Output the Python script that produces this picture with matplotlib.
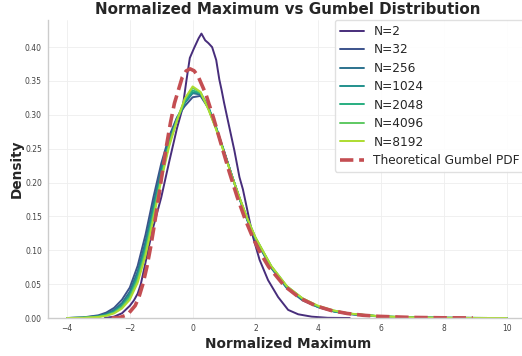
import matplotlib
matplotlib.use("Agg")
import matplotlib.pyplot as plt
import seaborn as sns

sns.set_style("whitegrid")
plt.rcParams['font.family'] = ['DejaVu Sans']

# ---- data ----
labels = ["N=2", "N=32", "N=256", "N=1024", "N=2048", "N=4096", "N=8192"]
colors = sns.color_palette("viridis", 7)

x_n2 = [-2.8, -2.5, -2.25, -2.0, -1.87, -1.75, -1.65, -1.5, -1.42, -1.25, -1.0,
        -0.75, -0.5, -0.32, -0.2, -0.09, 0.04, 0.19, 0.28, 0.4, 0.5, 0.62, 0.75,
        0.85, 0.92, 1.0, 1.12, 1.33, 1.49, 1.6, 1.76, 1.92, 2.13, 2.4, 2.72, 3.04,
        3.36, 3.79, 4.3, 5.0]
y_n2 = [0.0, 0.002, 0.007, 0.018, 0.026, 0.036, 0.05, 0.082, 0.10, 0.135, 0.178,
        0.23, 0.28, 0.31, 0.35, 0.384, 0.398, 0.413, 0.42, 0.41, 0.406, 0.40, 0.381,
        0.352, 0.337, 0.318, 0.292, 0.247, 0.208, 0.190, 0.155, 0.12, 0.086, 0.056,
        0.031, 0.012, 0.0055, 0.002, 0.0003, 0.0]

x_grid = [-4.0, -3.5, -3.0, -2.75, -2.5, -2.25, -2.0, -1.75, -1.5, -1.25, -1.0,
          -0.75, -0.5, -0.25, 0.0, 0.25, 0.5, 0.75, 1.0, 1.25, 1.5, 1.75, 2.0,
          2.5, 3.0, 3.5, 4.0, 4.5, 5.0, 6.0, 7.0, 8.0, 9.0, 10.0]

y_n32 = [0, 0.0008, 0.004, 0.008, 0.015, 0.027, 0.045, 0.077, 0.123, 0.178, 0.228,
         0.268, 0.296, 0.313, 0.326, 0.328, 0.310, 0.280, 0.246, 0.210, 0.175, 0.143,
         0.116, 0.074, 0.044, 0.026, 0.016, 0.0095, 0.0057, 0.002, 0.0007, 0.0002,
         0.0001, 0.0]
y_n256 = [0, 0.0006, 0.003, 0.006, 0.012, 0.022, 0.039, 0.069, 0.113, 0.168, 0.221,
          0.264, 0.295, 0.318, 0.332, 0.330, 0.311, 0.281, 0.246, 0.210, 0.176, 0.144,
          0.117, 0.075, 0.045, 0.027, 0.016, 0.010, 0.006, 0.0022, 0.0008, 0.0003,
          0.0001, 0.0]
y_n1024 = [0, 0.0004, 0.0025, 0.005, 0.010, 0.019, 0.035, 0.063, 0.106, 0.160, 0.214,
           0.259, 0.292, 0.318, 0.333, 0.333, 0.312, 0.281, 0.246, 0.210, 0.176, 0.145,
           0.118, 0.076, 0.046, 0.028, 0.017, 0.010, 0.0062, 0.0023, 0.0008, 0.0003,
           0.0001, 0.0]
y_n2048 = [0, 0.0003, 0.002, 0.0042, 0.0085, 0.017, 0.032, 0.059, 0.101, 0.155, 0.210,
           0.257, 0.292, 0.320, 0.336, 0.332, 0.310, 0.280, 0.245, 0.210, 0.176, 0.145,
           0.118, 0.076, 0.046, 0.028, 0.017, 0.010, 0.0063, 0.0023, 0.0008, 0.0003,
           0.0001, 0.0]
y_n4096 = [0, 0.0003, 0.0018, 0.0038, 0.0078, 0.016, 0.030, 0.056, 0.097, 0.151, 0.207,
           0.256, 0.293, 0.323, 0.340, 0.333, 0.309, 0.279, 0.245, 0.210, 0.177, 0.146,
           0.119, 0.077, 0.047, 0.029, 0.017, 0.011, 0.0065, 0.0024, 0.0009, 0.0003,
           0.0001, 0.0]
y_n8192 = [0, 0.0002, 0.0015, 0.0032, 0.0068, 0.014, 0.027, 0.052, 0.092, 0.146, 0.203,
           0.253, 0.291, 0.324, 0.342, 0.334, 0.308, 0.278, 0.244, 0.209, 0.177, 0.146,
           0.119, 0.077, 0.047, 0.029, 0.018, 0.011, 0.0066, 0.0024, 0.0009, 0.0003,
           0.0001, 0.0]

x_gumbel = [-2.58, -2.33, -2.08, -1.83, -1.705, -1.58, -1.455, -1.33, -1.205, -1.08,
            -0.955, -0.83, -0.705, -0.58, -0.33, -0.205, -0.08, 0.045, 0.17, 0.42,
            0.67, 0.92, 1.17, 1.42, 1.67, 1.92, 2.17, 2.42, 2.92, 3.42, 3.92, 4.42,
            4.92, 5.42, 5.92, 6.92, 7.92, 8.92]
y_gumbel = [0.00006, 0.0007, 0.0046, 0.0182, 0.0316, 0.0507, 0.0758, 0.1064, 0.1416,
            0.1794, 0.2179, 0.2549, 0.2885, 0.3170, 0.3556, 0.3649, 0.3679, 0.3651,
            0.3574, 0.3307, 0.2945, 0.2546, 0.2151, 0.1785, 0.1460, 0.1182, 0.0949,
            0.0756, 0.0474, 0.0293, 0.0180, 0.0110, 0.00669, 0.00407, 0.00247,
            0.00091, 0.000335, 0.000123]

series_y = [y_n32, y_n256, y_n1024, y_n2048, y_n4096, y_n8192]

# ---- figure ----
fig = plt.figure(figsize=(5.22, 3.56), dpi=100)
ax = fig.add_axes([0.091, 0.1067, 0.922, 0.837])

ax.plot(x_n2, y_n2, color=colors[0], lw=1.4, label=labels[0])
for lab, col, ys in zip(labels[1:], colors[1:], series_y):
    ax.plot(x_grid, ys, color=col, lw=1.4, label=lab)
ax.plot(x_gumbel, y_gumbel, color="#c44e52", lw=2.6, ls="--",
        label="Theoretical Gumbel PDF")

ax.set_xlim(-4.62, 10.7)
ax.set_ylim(0, 0.44)
ax.set_xticks([-4, -2, 0, 2, 4, 6, 8, 10])
ax.set_yticks([0.0, 0.05, 0.10, 0.15, 0.20, 0.25, 0.30, 0.35, 0.40])
ax.set_yticklabels(["0.00", "0.05", "0.10", "0.15", "0.20", "0.25", "0.30", "0.35", "0.40"])
ax.tick_params(labelsize=5.5, colors="#444444", length=0, pad=4)
ax.grid(True, color="#eeeeee", lw=0.6)
sns.despine(ax=ax)
for s in ["left", "bottom"]:
    ax.spines[s].set_color("#cccccc")
    ax.spines[s].set_linewidth(1.0)

ax.set_title("Normalized Maximum vs Gumbel Distribution", fontsize=10.9,
             fontweight="bold", color="#262626", pad=4)
ax.set_xlabel("Normalized Maximum", fontsize=9.8, fontweight="bold", color="#262626",
              labelpad=3)
ax.set_ylabel("Density", fontsize=9.8, fontweight="bold", color="#262626", labelpad=1)

ax.legend(loc="upper left", bbox_to_anchor=(0.597, 1.0), borderaxespad=0,
          fontsize=8.7, labelspacing=0.45, frameon=True, framealpha=0.9,
          edgecolor="#dddddd")

fig.savefig("out.png", dpi=100)
